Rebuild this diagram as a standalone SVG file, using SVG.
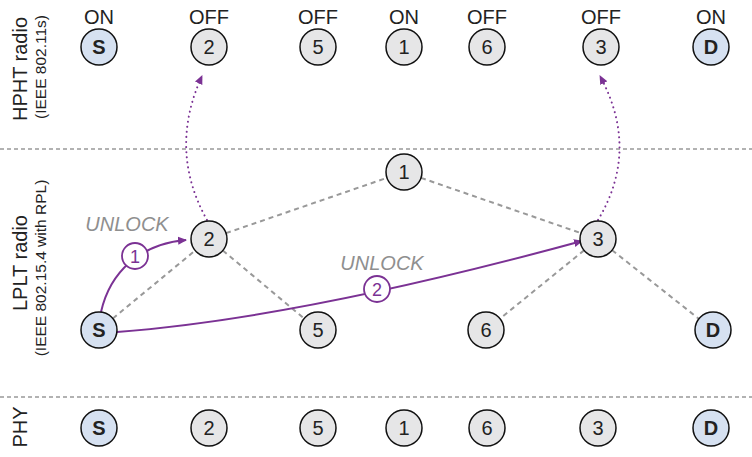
<svg xmlns="http://www.w3.org/2000/svg" width="752" height="457" viewBox="0 0 752 457">
<style>
.n{fill:#e6e6e7;stroke:#111;stroke-width:1.5}
.e{fill:#d6e1f1;stroke:#111;stroke-width:1.5}
.t{font-family:"Liberation Sans",Arial,sans-serif;font-size:20px;fill:#222;text-anchor:middle}
.b{font-weight:bold}
.st{font-family:"Liberation Sans",Arial,sans-serif;font-size:20px;fill:#222;text-anchor:middle}
.lab{font-family:"Liberation Sans",Arial,sans-serif;font-size:20px;fill:#222;text-anchor:middle}
.sub{font-family:"Liberation Sans",Arial,sans-serif;font-size:15.5px;fill:#222;text-anchor:middle}
.sep{stroke:#999;stroke-width:1.5;stroke-dasharray:4,3}
.g{stroke:#999;stroke-width:2;stroke-dasharray:5,4;fill:none}
.p{stroke:#7b3294;stroke-width:2;fill:none}
.d{stroke:#7b3294;stroke-width:2;fill:none;stroke-dasharray:0.1,5;stroke-linecap:round}
.ul{font-family:"Liberation Sans",Arial,sans-serif;font-size:20px;fill:#8f8f8f;font-style:italic;text-anchor:middle}
.lc{fill:#fff;stroke:#7b3294;stroke-width:1.8}
.lt{font-family:"Liberation Sans",Arial,sans-serif;font-size:18px;fill:#7b3294;text-anchor:middle}
</style>
<defs>
<marker id="ah" markerWidth="10" markerHeight="10" refX="8" refY="5" orient="auto" markerUnits="userSpaceOnUse">
<path d="M0,1 L9,5 L0,9 Z" fill="#7b3294"/>
</marker>
</defs>
<g id="layers">
<line class="sep" x1="0" y1="149" x2="752" y2="149"/>
<line class="sep" x1="0" y1="397" x2="752" y2="397"/>
<text class="lab" transform="translate(27,69) rotate(-90)">HPHT radio</text>
<text class="sub" transform="translate(46,67) rotate(-90)">(IEEE 802.11s)</text>
<text class="lab" transform="translate(27,263) rotate(-90)">LPLT radio</text>
<text class="sub" transform="translate(46,268) rotate(-90)">(IEEE 802.15.4 with RPL)</text>
<text class="lab" transform="translate(27,427) rotate(-90)">PHY</text>
</g>
<g id="status">
<text class="st" x="99" y="24">ON</text>
<text class="st" x="209" y="24">OFF</text>
<text class="st" x="318" y="24">OFF</text>
<text class="st" x="404" y="24">ON</text>
<text class="st" x="487" y="24">OFF</text>
<text class="st" x="601" y="24">OFF</text>
<text class="st" x="711" y="24">ON</text>
</g>
<g id="connectors">
<line class="g" x1="99" y1="330" x2="209" y2="239"/>
<line class="g" x1="209" y1="239" x2="404" y2="172"/>
<line class="g" x1="209" y1="239" x2="318" y2="330"/>
<line class="g" x1="404" y1="172" x2="598" y2="239"/>
<line class="g" x1="598" y1="239" x2="486" y2="330"/>
<line class="g" x1="598" y1="239" x2="713" y2="330"/>
<path class="p" d="M101,312 C110,272 140,244 186,240" marker-end="url(#ah)"/>
<path class="p" d="M117,332 Q300,318 582,241" marker-end="url(#ah)"/>
<path class="d" d="M207,220 Q168,150 202,76" marker-end="url(#ah)"/>
<path class="d" d="M598,220 Q640,150 600,76" marker-end="url(#ah)"/>
<text class="ul" x="127" y="231">UNLOCK</text>
<text class="ul" x="382" y="270">UNLOCK</text>
<circle class="lc" cx="135" cy="256" r="13"/>
<text class="lt" x="135" y="262.5">1</text>
<circle class="lc" cx="377" cy="289" r="13"/>
<text class="lt" x="377" y="295.5">2</text>
</g>
<g id="top-S"><circle class="e" cx="99" cy="47" r="18"/><text class="t b" x="99" y="54">S</text></g>
<g id="top-2"><circle class="n" cx="209" cy="47" r="18"/><text class="t" x="209" y="54">2</text></g>
<g id="top-5"><circle class="n" cx="318" cy="47" r="18"/><text class="t" x="318" y="54">5</text></g>
<g id="top-1"><circle class="n" cx="404" cy="47" r="18"/><text class="t" x="404" y="54">1</text></g>
<g id="top-6"><circle class="n" cx="487" cy="47" r="18"/><text class="t" x="487" y="54">6</text></g>
<g id="top-3"><circle class="n" cx="601" cy="47" r="18"/><text class="t" x="601" y="54">3</text></g>
<g id="top-D"><circle class="e" cx="711" cy="47" r="18"/><text class="t b" x="711" y="54">D</text></g>
<g id="mid-1"><circle class="n" cx="404" cy="172" r="18"/><text class="t" x="404" y="179">1</text></g>
<g id="mid-2"><circle class="n" cx="209" cy="239" r="18"/><text class="t" x="209" y="246">2</text></g>
<g id="mid-3"><circle class="n" cx="598" cy="239" r="18"/><text class="t" x="598" y="246">3</text></g>
<g id="mid-S"><circle class="e" cx="99" cy="330" r="18"/><text class="t b" x="99" y="337">S</text></g>
<g id="mid-5"><circle class="n" cx="318" cy="330" r="18"/><text class="t" x="318" y="337">5</text></g>
<g id="mid-6"><circle class="n" cx="486" cy="330" r="18"/><text class="t" x="486" y="337">6</text></g>
<g id="mid-D"><circle class="e" cx="713" cy="330" r="18"/><text class="t b" x="713" y="337">D</text></g>
<g id="phy-S"><circle class="e" cx="99" cy="428" r="18"/><text class="t b" x="99" y="435">S</text></g>
<g id="phy-2"><circle class="n" cx="209" cy="428" r="18"/><text class="t" x="209" y="435">2</text></g>
<g id="phy-5"><circle class="n" cx="318" cy="428" r="18"/><text class="t" x="318" y="435">5</text></g>
<g id="phy-1"><circle class="n" cx="404" cy="428" r="18"/><text class="t" x="404" y="435">1</text></g>
<g id="phy-6"><circle class="n" cx="487" cy="428" r="18"/><text class="t" x="487" y="435">6</text></g>
<g id="phy-3"><circle class="n" cx="598" cy="428" r="18"/><text class="t" x="598" y="435">3</text></g>
<g id="phy-D"><circle class="e" cx="711" cy="428" r="18"/><text class="t b" x="711" y="435">D</text></g>
</svg>
